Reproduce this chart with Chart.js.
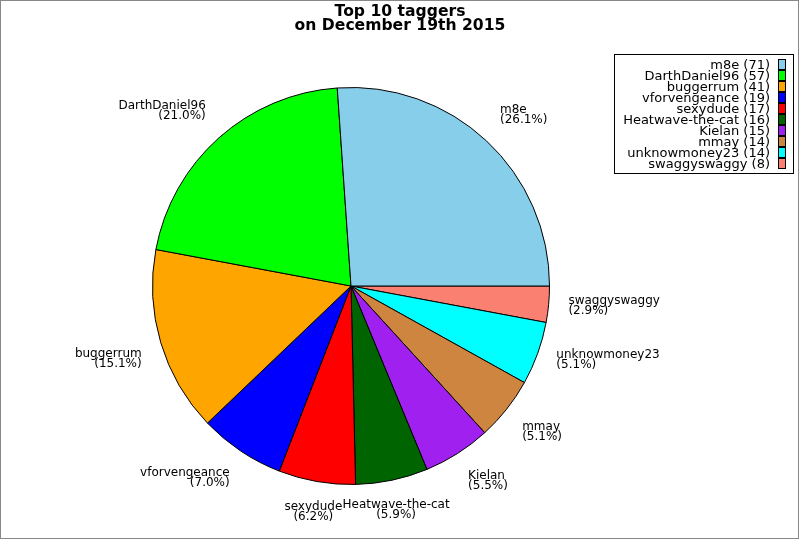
<!DOCTYPE html>
<html>
<head>
<meta charset="utf-8">
<script src="https://cdn.jsdelivr.net/npm/chart.js@4/dist/chart.umd.min.js"></script>
<style>
  html, body { margin: 0; padding: 0; background: #fff; }
  #wrap { width: 800px; height: 540px; }
</style>
</head>
<body>
<div id="wrap"><canvas id="taggers" width="800" height="540"></canvas></div>
<script>
// top 10 taggers, in legend order
const names = ['m8e', 'DarthDaniel96', 'buggerrum', 'vforvengeance', 'sexydude',
               'Heatwave-the-cat', 'Kielan', 'mmay', 'unknowmoney23', 'swaggyswaggy'];
const counts = [71, 57, 41, 19, 17, 16, 15, 14, 14, 8];
const pctLabels = ['26.1', '21.0', '15.1', '7.0', '6.2', '5.9', '5.5', '5.1', '5.1', '2.9'];
const sliceColors = ['#87ceeb', '#00ff00', '#ffa500', '#0000ff', '#ff0000',
                     '#006400', '#a020f0', '#cd853f', '#00ffff', '#fa8072'];
const titleLines = ['Top 10 taggers', 'on December 19th 2015'];

const FONT = '12px "DejaVu Sans"';
const LEGEND_FONT = '13px "DejaVu Sans"';

// the reference goes counter-clockwise from 3 o'clock, chart.js goes clockwise,
// so feed the slices reversed and start at 90deg
const rev = arr => arr.slice().reverse();

const decorations = {
    id: 'decorations',
    afterDraw(chart) {
        const ctx = chart.ctx;
        const n = names.length;
        ctx.save();

        // outer frame
        ctx.strokeStyle = '#888';
        ctx.lineWidth = 1;
        ctx.strokeRect(0.5, 0.5, 798, 538);

        // title
        ctx.fillStyle = '#000';
        ctx.font = 'bold 15.6px "DejaVu Sans"';
        ctx.textAlign = 'center';
        ctx.textBaseline = 'alphabetic';
        ctx.fillText(titleLines[0], 400, 16);
        ctx.fillText(titleLines[1], 400, 29.5);

        // slice labels
        ctx.font = FONT;
        const meta = chart.getDatasetMeta(0);
        meta.data.forEach((arc, i) => {
            const k = n - 1 - i;
            const p = arc.getProps(['x', 'y', 'startAngle', 'endAngle', 'outerRadius'], true);
            const mid = (p.startAngle + p.endAngle) / 2;
            const c = Math.cos(mid), s = Math.sin(mid);
            const ax = p.x + c * p.outerRadius * 1.1;
            const ay = p.y + s * p.outerRadius * 1.1;

            if (Math.abs(c) < 0.3) ctx.textAlign = 'center';
            else ctx.textAlign = c > 0 ? 'left' : 'right';

            let b1;
            if (s < 0) b1 = ay - 13.5;          // upper half: sits above the point
            else if (c > 0.9) b1 = ay - 2;      // near 3 o'clock: centred
            else b1 = ay + 8.5;                 // lower half: hangs below
            ctx.fillText(names[k], ax, b1);
            ctx.fillText('(' + pctLabels[k] + '%)', ax, b1 + 10);
        });

        // legend
        ctx.font = LEGEND_FONT;
        ctx.strokeStyle = '#000';
        ctx.strokeRect(614.5, 54.5, 179, 119);
        ctx.textAlign = 'right';
        names.forEach((name, k) => {
            const base = 68.5 + k * 11.1;
            ctx.fillStyle = '#000';
            ctx.fillText(name + ' (' + counts[k] + ')', 770, base);
            ctx.fillStyle = sliceColors[k];
            ctx.fillRect(778.5, Math.round(base - 10) + 0.5, 7, 10);
            ctx.strokeRect(778.5, Math.round(base - 10) + 0.5, 7, 10);
        });
        ctx.restore();
    }
};

const chartConfig = {
    type: 'pie',
    data: {
        labels: rev(names),
        datasets: [{
            data: rev(counts),
            backgroundColor: rev(sliceColors),
            borderColor: '#000',
            borderWidth: 1
        }]
    },
    options: {
        responsive: false,
        devicePixelRatio: 1,
        animation: false,
        rotation: 90,
        layout: {
            padding: { left: 152, right: 250, top: 87, bottom: 55 }
        },
        plugins: {
            legend: { display: false },
            title: { display: false },
            tooltip: { enabled: false }
        },
        events: []
    },
    plugins: [decorations]
};

new Chart(document.getElementById('taggers'), chartConfig);
</script>
</body>
</html>
